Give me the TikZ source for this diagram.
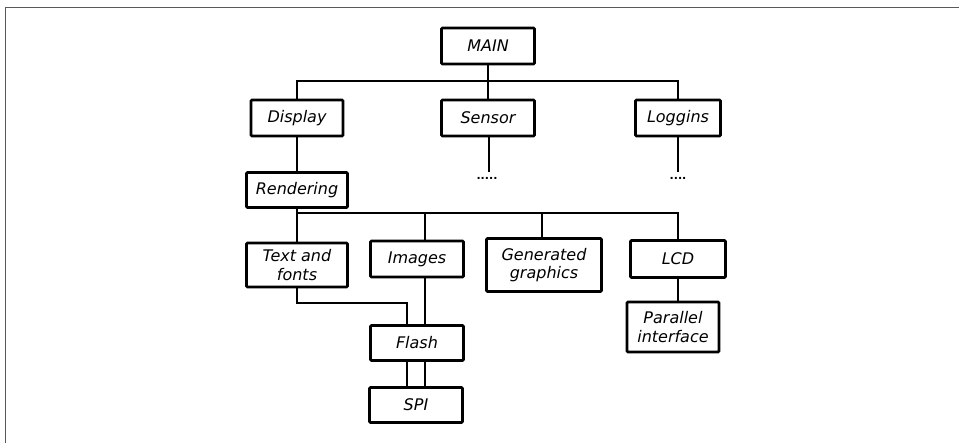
\documentclass[tikz,border=0pt]{standalone}
\usepackage{fontspec}
\newfontfamily\hand{DejaVu Sans}
\begin{document}
\begin{tikzpicture}[x=1pt,y=-1pt,
  box/.style={draw=black, line width=2.6pt, rounded corners=1pt, inner sep=0pt,
    align=center, font=\hand\itshape\fontsize{16}{18.5}\selectfont},
  link/.style={draw=black, line width=1.7pt},
  frame/.style={draw=black!65, line width=1.4pt},
  dotsty/.style={inner sep=0pt, font=\hand\bfseries\fontsize{11}{11}\selectfont}]
\useasboundingbox (0,0) rectangle (959,443);
\draw[frame] (5.5,443) -- (5.5,7.5) -- (959,7.5);

\node[box, minimum width=93pt, minimum height=36pt] (main) at (488,46) {MAIN};
\node[box, minimum width=92pt, minimum height=36pt] (display) at (297,118) {Display};
\node[box, minimum width=93pt, minimum height=36pt] (sensor) at (488,118) {Sensor};
\node[box, minimum width=85pt, minimum height=36pt] (loggins) at (678,118) {Loggins};
\node[box, minimum width=101pt, minimum height=35pt] (render) at (297,190) {Rendering};
\node[box, minimum width=101pt, minimum height=44pt] (text) at (297,265) {Text and\\fonts};
\node[box, minimum width=93pt, minimum height=36pt] (images) at (417,259) {Images};
\node[box, minimum width=115pt, minimum height=53pt] (gen) at (544,265) {Generated\\graphics};
\node[box, minimum width=95pt, minimum height=37pt] (lcd) at (678,259) {LCD};
\node[box, minimum width=92pt, minimum height=50pt] (par) at (673,327) {Parallel\\interface};
\node[box, minimum width=93pt, minimum height=35pt] (flash) at (417,343) {Flash};
\node[box, minimum width=93pt, minimum height=35pt] (spi) at (416,405) {SPI};

\coordinate (j1) at (488,81);
\coordinate (s1) at (489,172);
\coordinate (l1) at (678,172);
\coordinate (j2) at (542,213);
\coordinate (ia) at (425,213);
\coordinate (tf) at (407,303);

\node[dotsty] (sdots) at (487,178) {.....};
\node[dotsty] (ldots) at (678,178) {....};

\draw[link] (main.south) -- (sensor.north);
\draw[link] (display.north) |- (j1) -| (loggins.north);
\draw[link] (sensor.south -| s1) -- (s1);
\draw[link] (loggins.south) -- (l1);
\draw[link] (display.south) -- (render.north);
\draw[link] (render.south) |- (j2) -| (lcd.north);
\draw[link] (text.north) -- (text.north |- j2);
\draw[link] (ia) -- (ia |- images.north);
\draw[link] (j2) -- (gen.north -| j2);
\draw[link] (lcd.south) -- (lcd.south |- par.north);
\draw[link] (text.south) |- (tf) -- (tf |- flash.north);
\draw[link] (ia |- images.south) -- (ia |- flash.north);
\draw[link] (tf |- flash.south) -- (tf |- spi.north);
\draw[link] (ia |- flash.south) -- (ia |- spi.north);
\end{tikzpicture}
\end{document}
